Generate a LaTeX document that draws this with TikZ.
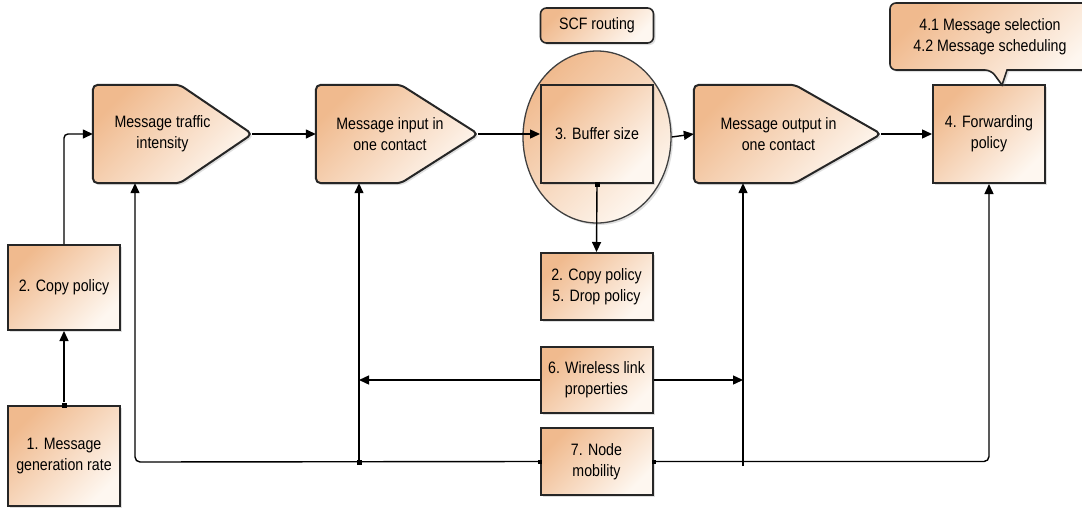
\documentclass[tikz,border=0pt]{standalone}
\usepackage{fontspec}
\setmainfont{Liberation Sans}[FakeStretch=0.86]
\usetikzlibrary{arrows.meta,shadows,calc,shapes.geometric}
\definecolor{cA}{RGB}{240,186,142}
\definecolor{cB}{RGB}{254,247,240}
\begin{document}
\begin{tikzpicture}[x=1pt,y=-1pt,
  fillshade/.style={top color=cA, bottom color=cB, shading angle=45},
  shad/.style={drop shadow={opacity=0.25,shadow xshift=2pt,shadow yshift=-2pt}},
  txt/.style={font=\fontsize{16.5}{21}\selectfont},
  box/.style={draw=black!85, line width=2pt, fillshade, shad, rectangle, minimum width=112pt, inner sep=0pt, align=center, txt},
  lbl/.style={align=center, inner sep=0pt, txt},
  arr/.style={line width=1.4pt, -{Triangle[length=10pt,width=9pt]}},
  dot/.style={fill=black, minimum size=5pt, inner sep=0pt, rectangle},
  area/.style={draw=none, minimum width=#1, minimum height=98pt, inner sep=0pt},
  penta/.style={draw=black!85, line width=2pt, fillshade, shad, rounded corners=5pt},
]
\fill[white] (0,0) rectangle (1082,509);
\clip (0,0) rectangle (1082,509);

% pentagons
\node[area=159pt] (ti) at (172.5,134) {};
\path[penta] (ti.south west) -- (ti.north west) -- ($(ti.north west)+(87,0)$) -- (ti.east) -- ($(ti.south west)+(87,0)$) -- cycle;
\node[lbl] (tiT) at ($(ti.center)+(-10,0)$) {Message traffic\\intensity};

\node[area=162pt] (inp) at (397,134) {};
\path[penta] (inp.south west) -- (inp.north west) -- ($(inp.north west)+(85,0)$) -- (inp.east) -- ($(inp.south west)+(85,0)$) -- cycle;
\node[lbl] (inpT) at ($(inp.center)+(-7,0)$) {Message input in\\one contact};

\node[area=187pt] (out) at (787.5,134) {};
\path[penta] (out.south west) -- (out.north west) -- ($(out.north west)+(101,0)$) -- (out.east) -- ($(out.south west)+(101,0)$) -- cycle;
\node[lbl] (outT) at ($(out.center)+(-9,0)$) {Message output in\\one contact};

% ellipse and buffer
\node[draw=black!75, line width=1.3pt, ellipse, fillshade, shad, minimum width=148pt, minimum height=172pt, inner sep=0pt] (ell) at (597,137) {};
\node[box, minimum height=98pt] (buf) at (597,134) {3. Buffer size};
\node[box, rounded corners=6pt, minimum width=113pt, minimum height=35pt, line width=1.6pt] (scf) at (597,25.5) {SCF routing};

% right
\node[box, minimum height=98pt] (fwd) at (989,134) {4. Forwarding\\policy};
\path[draw=black!85, line width=1.6pt, fillshade, shad, rounded corners=6pt]
  (1002,85) -- (991,70) [rounded corners=6pt] -- (890,70) -- (890,3) -- (1092,3) -- (1092,70) [sharp corners] -- (1007,70) -- cycle;
\node[lbl] (cal) at (990,37) {4.1 Message selection\\4.2 Message scheduling};

% left
\node[box, minimum height=85pt] (cp) at (64,287.5) {2. Copy policy};
\node[box, minimum height=100pt] (gen) at (64,456) {1. Message\\generation rate};

% middle column
\node[box, minimum height=67pt] (cd) at (596.5,286.5) {2. Copy policy\\5. Drop policy};
\node[box, minimum height=66pt] (wl) at (596.5,380) {6. Wireless link\\properties};
\node[box, minimum height=67pt] (nm) at (596.5,461.5) {7. Node\\mobility};

% connectors
\node[dot] (d1) at (gen.north) {};
\draw[arr] (d1) -- (cp.south);
\draw[arr, rounded corners=4pt] (cp.north) |- (ti.west);
\draw[arr] (ti.east) -- (inp.west);
\draw[arr] (inp.east) -- (buf.west);
\draw[arr] (ell.east) -- (out.west);
\draw[arr] (out.east) -- (fwd.west);
\node[dot] (d2) at (buf.south) {};
\draw[arr] (d2) -- (cd.north);

\coordinate (cL) at (135,462);
\coordinate (cR) at (743,466);
\node[dot] (j2) at (359,462) {};
\node[dot, minimum size=4pt] (d3) at (nm.west) {};
\node[dot, minimum size=4pt] (d4) at (nm.east) {};
\draw[arr, rounded corners=5pt] (nm.west) -- (cL) -- (cL |- ti.south);
\draw[arr] (j2.center) -- (j2.center |- inp.south);
\draw[arr, rounded corners=5pt] (nm.east) -| (fwd.south);
\draw[arr] (cR) -- (cR |- out.south);
\draw[arr] (wl.west) -- (wl.west -| j2.center);
\draw[arr] (wl.east) -- (wl.east -| cR);
\end{tikzpicture}
\end{document}
